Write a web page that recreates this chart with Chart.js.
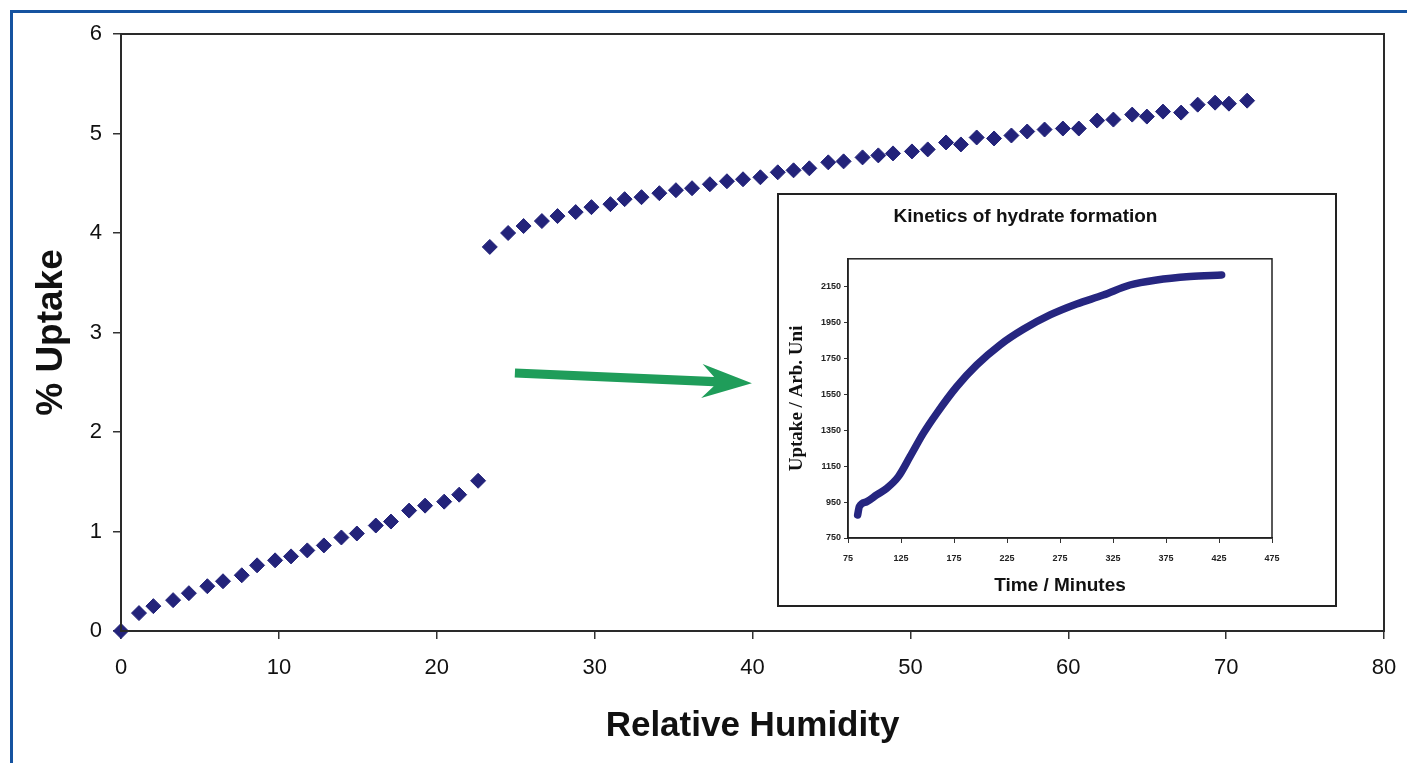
<!DOCTYPE html>
<html>
<head>
<meta charset="utf-8">
<script src="https://cdn.jsdelivr.net/npm/chart.js@4.4.1/dist/chart.umd.min.js"></script>
<style>
  html, body { margin: 0; padding: 0; background: #ffffff; overflow: hidden; }
  #frame { position: absolute; left: 10px; top: 10px; width: 2000px; height: 2000px;
           border-left: 3px solid #1553a0; border-top: 3px solid #1553a0; }
  #main { position: absolute; left: 0; top: 0; }
  #insetBox { position: absolute; left: 777px; top: 193px; width: 560px; height: 414px;
              box-sizing: border-box; border: 2px solid #222; background: #ffffff; }
  #inset { position: absolute; left: 0; top: 0; }
</style>
</head>
<body>
<div id="frame"></div>
<canvas id="main" width="1407" height="763"></canvas>
<div id="insetBox"><canvas id="inset" width="512" height="410"></canvas></div>
<script>
// ---- Main chart data ----
const rh = [0, 1.14, 2.05, 3.3, 4.3, 5.47, 6.46, 7.65, 8.62, 9.76, 10.77, 11.8, 12.85, 13.96, 14.94, 16.14, 17.1, 18.25, 19.26, 20.47, 21.42, 22.62,
  23.36, 24.52, 25.5, 26.66, 27.65, 28.8, 29.8, 31.0, 31.9, 32.97, 34.1, 35.15, 36.17, 37.3, 38.38, 39.4, 40.5, 41.6, 42.6, 43.6,
  44.8, 45.77, 46.97, 47.97, 48.9, 50.1, 51.1, 52.26, 53.2, 54.2, 55.3, 56.4, 57.4, 58.5, 59.66, 60.67, 61.83, 62.86, 64.05, 64.98,
  66.0, 67.15, 68.2, 69.3, 70.18, 71.33];
const uptake = [0, 0.18, 0.25, 0.31, 0.38, 0.45, 0.50, 0.56, 0.66, 0.71, 0.75, 0.81, 0.86, 0.94, 0.98, 1.06, 1.10, 1.21, 1.26, 1.30, 1.37, 1.51,
  3.86, 4.00, 4.07, 4.12, 4.17, 4.21, 4.26, 4.29, 4.34, 4.36, 4.40, 4.43, 4.45, 4.49, 4.52, 4.54, 4.56, 4.61, 4.63, 4.65,
  4.71, 4.72, 4.76, 4.78, 4.80, 4.82, 4.84, 4.91, 4.89, 4.96, 4.95, 4.98, 5.02, 5.04, 5.05, 5.05, 5.13, 5.14, 5.19, 5.17,
  5.22, 5.21, 5.29, 5.31, 5.30, 5.33];
const xTitle = 'Relative Humidity';
const yTitle = '% Uptake';
// arrow annotation (data coordinates)
const arrowTail = [24.95, 2.593];
const arrowTip = [39.96, 2.49];

// ---- Inset data ----
const insetTitle = 'Kinetics of hydrate formation';
const insetXTitle = 'Time / Minutes';
const insetYTitle = 'Uptake / Arb. Uni';
const time = [84.1, 85.7, 92.6, 102, 111.5, 122.5, 133.5, 146, 158.7, 177.5, 196.4, 218.4, 240.4, 265.6, 290.7, 315.9, 341, 366.2, 397.6, 427.5];
const kinUptake = [878, 925, 952, 990, 1027, 1092, 1203, 1333, 1445, 1593, 1714, 1826, 1913, 1993, 2054, 2104, 2160, 2188, 2207, 2216];
const insetXTicks = [75, 125, 175, 225, 275, 325, 375, 425, 475];
const insetYTicks = [750, 950, 1150, 1350, 1550, 1750, 1950, 2150];

Chart.defaults.font.family = '"Liberation Sans", Arial, Helvetica, sans-serif';
Chart.defaults.color = '#111';

const plain = v => String(v);

const boxPlugin = {
  id: 'box',
  afterDraw(chart, args, opts) {
    const {ctx, chartArea: a} = chart;
    ctx.save();
    ctx.strokeStyle = opts.color || '#222';
    ctx.lineWidth = opts.width || 2;
    ctx.strokeRect(a.left, a.top, a.right - a.left, a.bottom - a.top);
    ctx.restore();
  }
};

const arrowPlugin = {
  id: 'arrow',
  afterDatasetsDraw(chart) {
    const {ctx, scales: {x, y}} = chart;
    const x0 = x.getPixelForValue(arrowTail[0]), y0 = y.getPixelForValue(arrowTail[1]);
    const x1 = x.getPixelForValue(arrowTip[0]), y1 = y.getPixelForValue(arrowTip[1]);
    const L = Math.hypot(x1 - x0, y1 - y0);
    const ux = (x1 - x0) / L, uy = (y1 - y0) / L;
    const nx = -uy, ny = ux;
    const sw = 4.6, hw = 17, hl = 50, notch = 38;
    const P = (d, n) => [x1 - ux * d + nx * n, y1 - uy * d + ny * n];
    const pts = [
      [x0 + nx * sw, y0 + ny * sw], P(notch, sw), P(hl, hw), [x1, y1], P(hl, -hw), P(notch, -sw), [x0 - nx * sw, y0 - ny * sw]
    ];
    ctx.save();
    ctx.fillStyle = '#1f9d5a';
    ctx.beginPath();
    ctx.moveTo(pts[0][0], pts[0][1]);
    for (let i = 1; i < pts.length; i++) ctx.lineTo(pts[i][0], pts[i][1]);
    ctx.closePath();
    ctx.fill();
    ctx.restore();
  }
};

new Chart(document.getElementById('main'), {
  type: 'scatter',
  data: {
    datasets: [{
      data: rh.map((v, i) => ({x: v, y: uptake[i]})),
      pointStyle: 'rectRot',
      pointRadius: 7.5,
      pointBackgroundColor: '#23237a',
      pointBorderColor: '#23237a',
      pointBorderWidth: 1,
      showLine: false,
      clip: false
    }]
  },
  options: {
    responsive: false,
    animation: false,
    devicePixelRatio: 1,
    layout: {padding: {top: 34, right: 23, left: 0, bottom: 0}},
    plugins: {legend: {display: false}, tooltip: {enabled: false}, box: {color: '#2a2a2a', width: 2}},
    scales: {
      x: {
        type: 'linear', min: 0, max: 80,
        ticks: {stepSize: 10, padding: 0, maxRotation: 0, autoSkip: false, color: '#111', font: {size: 22, lineHeight: 2.65}, callback: plain},
        grid: {drawOnChartArea: false, drawTicks: true, tickLength: 8, color: '#333', lineWidth: 1.5},
        border: {display: true, color: '#2a2a2a', width: 2},
        title: {display: true, text: xTitle, color: '#111', font: {size: 35, weight: 'bold'}, padding: {top: 0, bottom: 16}},
        afterFit(s) { s.height = 132; }
      },
      y: {
        type: 'linear', min: 0, max: 6,
        ticks: {stepSize: 1, padding: 11, color: '#111', font: {size: 22}, callback: plain},
        grid: {drawOnChartArea: false, drawTicks: true, tickLength: 8, color: '#333', lineWidth: 1.5},
        border: {display: true, color: '#2a2a2a', width: 2},
        title: {display: true, text: yTitle, color: '#111', font: {size: 37, weight: 'bold'}, padding: {top: 30, bottom: 0}},
        afterFit(s) { s.width = 121; }
      }
    }
  },
  plugins: [boxPlugin, arrowPlugin]
});

new Chart(document.getElementById('inset'), {
  type: 'line',
  data: {
    datasets: [{
      data: time.map((t, i) => ({x: t, y: kinUptake[i]})),
      borderColor: '#262680',
      borderWidth: 7.5,
      borderCapStyle: 'round',
      borderJoinStyle: 'round',
      pointRadius: 0,
      cubicInterpolationMode: 'monotone',
      fill: false
    }]
  },
  options: {
    responsive: false,
    animation: false,
    devicePixelRatio: 1,
    layout: {padding: {top: 0, right: 19, left: 0, bottom: 0}},
    plugins: {
      legend: {display: false}, tooltip: {enabled: false},
      box: {color: '#222', width: 1.5},
      title: {display: true, text: insetTitle, color: '#111', font: {size: 19, weight: 'bold'}, padding: {top: 10, bottom: 31}}
    },
    scales: {
      x: {
        type: 'linear', min: 75, max: 475,
        afterBuildTicks(s) { s.ticks = insetXTicks.map(v => ({value: v})); },
        ticks: {padding: 10, maxRotation: 0, autoSkip: false, color: '#222', font: {size: 9, weight: 'bold'}, callback: plain},
        grid: {drawOnChartArea: false, drawTicks: true, tickLength: 5, color: '#333', lineWidth: 1},
        border: {display: true, color: '#222', width: 1.5},
        title: {display: true, text: insetXTitle, color: '#111', font: {size: 19, weight: 'bold'}, padding: {top: 0, bottom: 8}},
        afterFit(s) { s.height = 67; }
      },
      y: {
        type: 'linear', min: 750, max: 2306,
        afterBuildTicks(s) { s.ticks = insetYTicks.map(v => ({value: v})); },
        ticks: {padding: 3, autoSkip: false, color: '#222', font: {size: 9, weight: 'bold'}, callback: plain},
        grid: {drawOnChartArea: false, drawTicks: true, tickLength: 4, color: '#333', lineWidth: 1},
        border: {display: true, color: '#222', width: 1.5},
        title: {display: true, text: insetYTitle, color: '#111',
                font: {size: 19, weight: 'bold', family: '"Liberation Serif", "Times New Roman", serif'}, padding: {top: 7, bottom: 0}},
        afterFit(s) { s.width = 69; }
      }
    }
  },
  plugins: [boxPlugin]
});
</script>
</body>
</html>
